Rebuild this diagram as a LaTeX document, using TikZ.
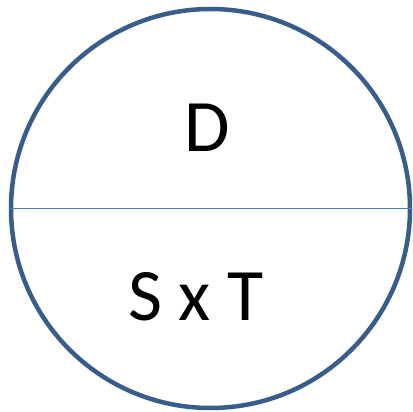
\documentclass[tikz,border=0pt]{standalone}
\usepackage{fontspec}
\setmainfont{Carlito}
\definecolor{ringblue}{HTML}{385D8A}
\definecolor{splitblue}{HTML}{4A7EBB}
\begin{document}
\begin{tikzpicture}[
    x=1pt, y=1pt,
    ring/.style={draw=ringblue, line width=4.5pt, circle, minimum size=399pt, inner sep=0pt},
    label/.style={font=\fontsize{74}{74}\selectfont, inner sep=0pt}
]
\useasboundingbox (0,0) rectangle (412,412);
\node[ring] (ring) at (210.5,203.5) {};
\draw[splitblue, line width=1.8pt] (ring.west) -- (ring.east);
\node[label] (top) at (207,284) {D};
\node[label] (bottom) at (196,115) {S x T};
\end{tikzpicture}
\end{document}
